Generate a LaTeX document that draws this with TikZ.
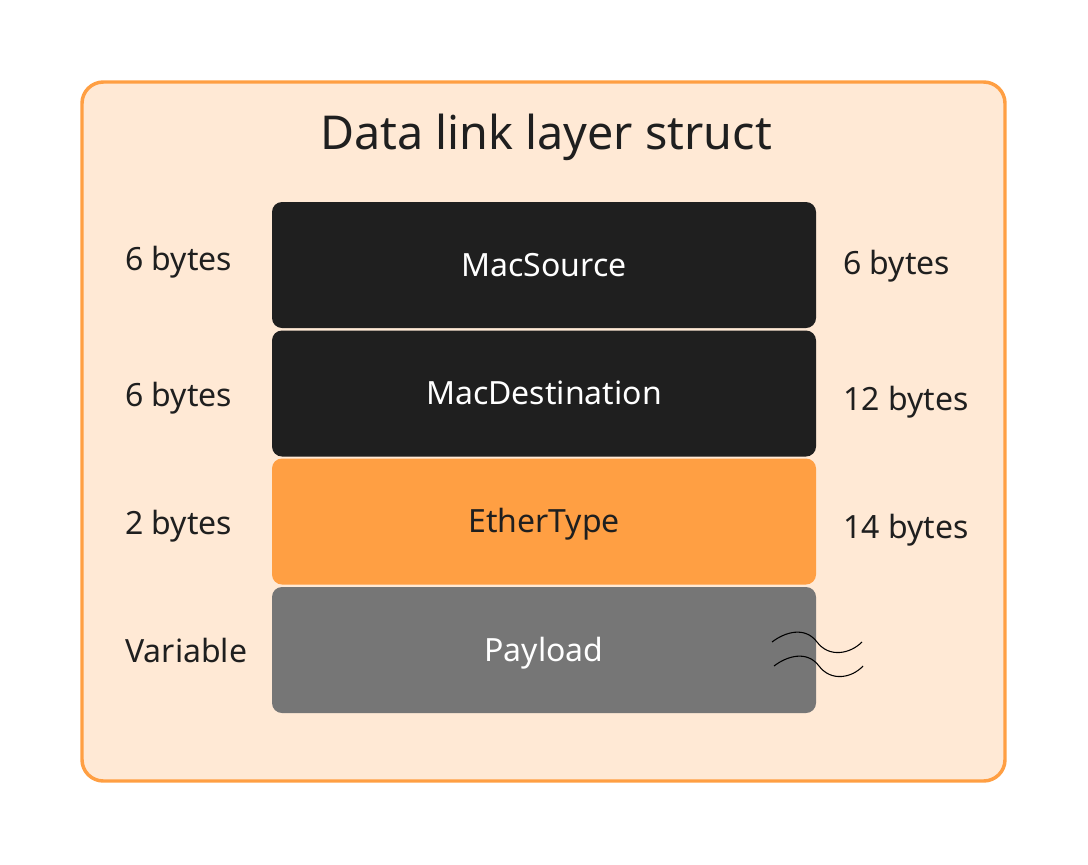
\documentclass[tikz,border=0pt]{standalone}
\usepackage{fontspec}
\setmainfont{Noto Sans}
\usepackage{tikz}

\definecolor{bgorange}{HTML}{FFE9D5}
\definecolor{linkorange}{HTML}{FF9F43}
\definecolor{blockdark}{HTML}{1F1F1F}
\definecolor{blockgray}{HTML}{767676}
\definecolor{textdark}{HTML}{1F1F1F}

\tikzset{
  field/.style={rounded corners=7.5pt, minimum width=408pt, minimum height=94.5pt, inner sep=0pt, text height=17.1pt, text depth=0pt, font=\fontsize{24}{28}\selectfont},
  size label/.style={anchor=west, inner sep=0pt, text height=17.1pt, text depth=0pt, text=textdark, font=\fontsize{24}{28}\selectfont},
}

\begin{document}
\begin{tikzpicture}[x=0.75pt,y=0.75pt,yscale=-1,xscale=1]
\useasboundingbox (0,0) rectangle (1088,864);

%Outer frame
\draw [linkorange, fill=bgorange, line width=2.6pt, rounded corners=16pt] (82,82) rectangle (1005,781);

% Title
\node (title) at (546,133) [inner sep=0pt, text height=25pt, text depth=0pt, text=textdark, font=\fontsize{35}{42}\selectfont] {Data link layer struct};

%Fields
\node (src) at (544,265) [field, fill=blockdark, text=white] {MacSource};
\node (dst) at (544,393.5) [field, fill=blockdark, text=white] {MacDestination};
\node (etype) at (544,521.5) [field, fill=linkorange, text=textdark] {EtherType};
\node (payload) at (544,650) [field, fill=blockgray, text=white] {Payload};

%Left sizes
\node (lsrc) at (125,259) [size label] {6 bytes};
\node (ldst) at (125,395) [size label] {6 bytes};
\node (letype) at (125,523) [size label] {2 bytes};
\node (lpayload) at (125,651) [size label] {Variable};

%Right offsets
\node (rsrc) at (843,263) [size label] {6 bytes};
\node (rdst) at (843,399) [size label] {12 bytes};
\node (retype) at (843,527) [size label] {14 bytes};

%Break marks
\draw [line width=0.8pt] (772,642) .. controls (785,632) and (805,626) .. (817,642) .. controls (829,658) and (850,654) .. (862,642);
\draw [line width=0.8pt] (774,666) .. controls (787,656) and (807,650) .. (819,666) .. controls (831,682) and (852,678) .. (863,666);

\end{tikzpicture}
\end{document}
